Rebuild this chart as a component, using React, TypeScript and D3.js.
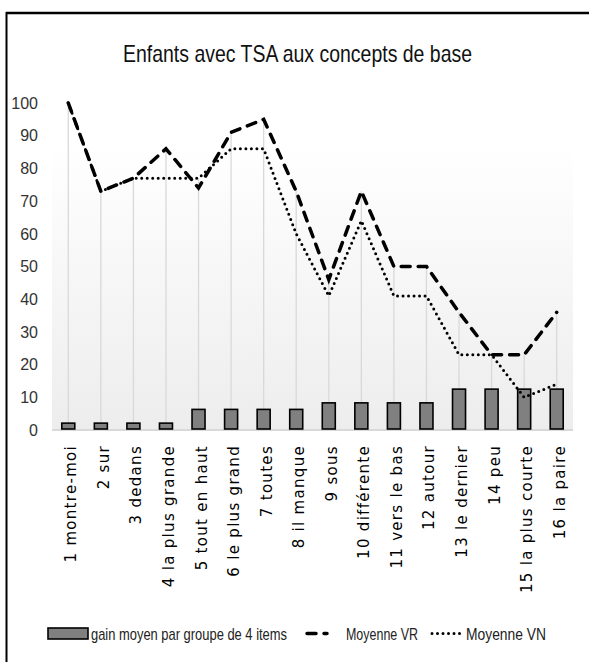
import React from "react";
import * as d3 from "d3";

// --- data ---
const categories = [
  "1 montre-moi", "2 sur", "3 dedans", "4 la plus grande", "5 tout en haut",
  "6 le plus grand", "7 toutes", "8 il manque", "9 sous", "10 différente",
  "11 vers le bas", "12 autour", "13 le dernier", "14 peu",
  "15 la plus courte", "16 la paire",
];
const gainMoyen = [2.1, 2.1, 2.1, 2.1, 6.3, 6.3, 6.3, 6.3, 8.3, 8.3, 8.3, 8.3, 12.5, 12.5, 12.5, 12.5];
const moyenneVR = [100, 73, 77, 86, 74, 91, 95, 73, 46, 73, 50, 50, 36, 23, 23, 36];
const moyenneVN = [100, 73, 77, 77, 77, 86, 86, 60, 41, 64, 41, 41, 23, 23, 10, 14];
const yTicks = [0, 10, 20, 30, 40, 50, 60, 70, 80, 90, 100];

const W = 589;
const H = 662;
const narrow = "'Liberation Sans Narrow', 'Arial Narrow', sans-serif";

export default function App() {
  const x = d3.scaleBand<string>().domain(categories).range([52, 573]).padding(0);
  const y = d3.scaleLinear().domain([0, 100]).range([430, 103]);
  const cx = (c: string) => (x(c) ?? 0) + x.bandwidth() / 2;

  const line = d3
    .line<number>()
    .x((_, i) => cx(categories[i]))
    .y(d => y(d));

  const barW = 13;

  return (
    <svg
      width={W}
      height={H}
      style={{ position: "absolute", left: 0, top: 0, background: "white" }}
    >
      <defs>
        <linearGradient id="plotBg" x1="0" y1="0" x2="0" y2="1">
          <stop offset="0" stopColor="#ffffff" />
          <stop offset="0.12" stopColor="#ffffff" />
          <stop offset="1" stopColor="#ededed" />
        </linearGradient>
      </defs>

      {/* frame (only top and left edges visible) */}
      <line x1={6} x2={W} y1={13} y2={13} stroke="black" strokeWidth={2.5} />
      <line x1={6.5} x2={6.5} y1={12} y2={H} stroke="black" strokeWidth={2} />

      <text
        x={297.5}
        y={62}
        textAnchor="middle"
        fontFamily={narrow}
        fontSize={24}
        fill="#111"
        textLength={349}
        lengthAdjust="spacingAndGlyphs"
      >
        Enfants avec TSA aux concepts de base
      </text>

      {/* plot background */}
      <rect x={52} y={y(100)} width={521} height={y(0) - y(100)} fill="url(#plotBg)" />

      {/* y tick labels */}
      {yTicks.map(t => (
        <text
          key={t}
          x={38}
          y={y(t)}
          dy="0.36em"
          textAnchor="end"
          fontFamily={narrow}
          fontSize={16}
          fill="#333"
        >
          {t}
        </text>
      ))}

      {/* drop lines */}
      {categories.map((c, i) => (
        <line
          key={c}
          x1={cx(c)}
          x2={cx(c)}
          y1={y(Math.max(moyenneVR[i], moyenneVN[i]))}
          y2={y(0)}
          stroke="#d9d9d9"
          strokeWidth={1.3}
        />
      ))}

      {/* baseline */}
      <line x1={52} x2={573} y1={y(0)} y2={y(0)} stroke="#d9d9d9" strokeWidth={2} />

      {/* bars */}
      {categories.map((c, i) => (
        <rect
          key={c}
          x={cx(c) - barW / 2}
          y={y(gainMoyen[i])}
          width={barW}
          height={y(0) - y(gainMoyen[i]) - 1}
          fill="#808080"
          stroke="black"
          strokeWidth={1.6}
        />
      ))}

      {/* lines */}
      <path
        d={line(moyenneVN) ?? ""}
        fill="none"
        stroke="black"
        strokeWidth={3}
        strokeDasharray="0 5.5"
        strokeLinecap="round"
      />
      <path
        d={line(moyenneVR) ?? ""}
        fill="none"
        stroke="black"
        strokeWidth={3.5}
        strokeDasharray="9 8"
        strokeLinecap="round"
      />

      {/* x labels */}
      {categories.map(c => (
        <text
          key={c}
          transform={`translate(${cx(c) + 8},445) rotate(-90)`}
          textAnchor="end"
          fontFamily="'DejaVu Sans', Verdana, sans-serif"
          fontSize={15}
          letterSpacing={1.3}
          fill="#000"
        >
          {c}
        </text>
      ))}

      {/* legend */}
      <g fontFamily={narrow} fontSize={17} fill="#222">
        <rect x={48} y={628} width={40} height={11} fill="#808080" stroke="black" strokeWidth={1.6} />
        <text x={91} y={640} textLength={196} lengthAdjust="spacingAndGlyphs">
          gain moyen par groupe de 4 items
        </text>
        <line x1={307} x2={327} y1={633.5} y2={633.5} stroke="black" strokeWidth={3.5} strokeDasharray="9 8" strokeLinecap="round" />
        <text x={346} y={640} textLength={72} lengthAdjust="spacingAndGlyphs">
          Moyenne VR
        </text>
        <line x1={432} x2={460} y1={633.5} y2={633.5} stroke="black" strokeWidth={3} strokeDasharray="0 5.5" strokeLinecap="round" />
        <text x={466} y={640} textLength={80} lengthAdjust="spacingAndGlyphs">
          Moyenne VN
        </text>
      </g>
    </svg>
  );
}
